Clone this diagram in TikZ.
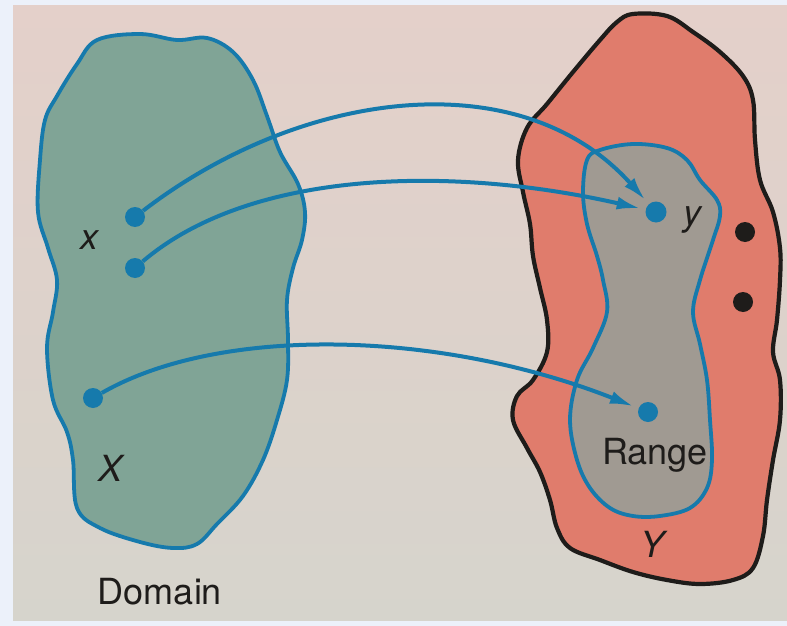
\documentclass[tikz,border=0pt]{standalone}
\usepackage{fontspec}
\setmainfont{TeX Gyre Heros}
\usetikzlibrary{arrows.meta}
\definecolor{margin}{RGB}{236,241,250}
\definecolor{papertop}{RGB}{228,208,202}
\definecolor{paperbot}{RGB}{214,212,204}
\definecolor{domfill}{RGB}{128,164,150}
\definecolor{bl}{RGB}{22,122,172}
\definecolor{yfill}{RGB}{224,124,108}
\definecolor{rfill}{RGB}{160,154,146}
\definecolor{ink}{RGB}{30,28,26}
\tikzset{
  blob/.style={line width=3.8pt, line join=round},
  bdot/.style={circle, fill=bl, inner sep=0pt, minimum size=20pt},
  kdot/.style={circle, fill=ink, inner sep=0pt, minimum size=20pt},
  arr/.style={draw=bl, line width=4pt, -{Latex[length=24pt,width=13pt]}, shorten >=5pt},
  lbl/.style={text=ink, inner sep=0pt, font=\fontsize{36}{40}\selectfont},
  ilbl/.style={text=ink, inner sep=0pt, font=\fontsize{36}{40}\selectfont\itshape}
}
\begin{document}
\begin{tikzpicture}[x=1pt,y=-1pt]
\useasboundingbox (0,0) rectangle (787,626);
\fill[margin] (0,0) rectangle (787,626);
\shade[top color=papertop, bottom color=paperbot] (13,6) rectangle (787,620);
% Domain
\filldraw[blob, draw=bl, fill=domfill] plot[smooth cycle, tension=0.6] coordinates {
(97,40) (140,34) (177,40) (207,38) (233,52) (253,80) (267,116) (280,152) (298,184)
(305,212) (302,240) (293,268) (287,300) (288,340) (287,380) (277,420) (263,460)
(243,496) (217,524) (197,544) (173,548) (140,542) (100,528) (77,508) (73,460)
(67,432) (53,400) (47,348) (53,312) (57,280) (48,248) (38,212) (40,160) (45,120)
(57,96) (77,64)};
% Y set
\filldraw[line width=4.2pt, line join=round, draw=ink, fill=yfill] plot[smooth cycle, tension=0.6] coordinates {
(633,14) (667,16) (693,32) (720,52) (743,76) (753,100) (755,140) (760,180) (773,212)
(780,248) (780,280) (777,320) (773,352) (780,380) (780,420) (773,460) (767,500)
(763,536) (753,568) (733,580) (700,584) (667,580) (633,572) (600,560) (570,548)
(557,528) (550,500) (540,472) (527,448) (513,420) (517,396) (533,380) (547,352)
(547,320) (540,288) (533,256) (530,224) (523,192) (518,160) (527,128) (547,104)
(573,72) (600,40) (617,22)};
% Range
\filldraw[blob, draw=bl, fill=rfill] plot[smooth cycle, tension=0.6] coordinates {
(587,160) (600,150) (633,144) (667,148) (687,160) (700,180) (717,200) (720,216)
(713,240) (700,280) (693,312) (700,344) (707,380) (710,420) (712,460) (707,488)
(690,508) (660,516) (633,516) (610,508) (590,488) (577,460) (570,420) (577,380)
(593,348) (607,312) (603,280) (597,256) (587,224) (583,192)};
% dots
\node[bdot] (x1) at (135,217) {};
\node[bdot] (x2) at (135,268) {};
\node[bdot] (x3) at (93,398) {};
\node[bdot, minimum size=21pt] (yd) at (656,212) {};
\node[bdot] (rd) at (648,412) {};
\node[kdot] (k1) at (745,232) {};
\node[kdot] (k2) at (743,302) {};
% arrows
\draw[arr] (x1) .. controls (300,90) and (520,60) .. (yd);
\draw[arr] (x2) .. controls (250,170) and (450,165) .. (yd);
\draw[arr] (x3) .. controls (220,325) and (440,330) .. (rd);
% labels
\node[ilbl] (lx) at (89,240) {x};
\node[ilbl] (lX) at (111,468) {X};
\node[ilbl] (ly) at (692,220) {y};
\node[ilbl] (lY) at (652,544) {Y};
\node[lbl] (ldom) at (160,592) {Domain};
\node[lbl] (lran) at (655,455) {Range};
\end{tikzpicture}
\end{document}
